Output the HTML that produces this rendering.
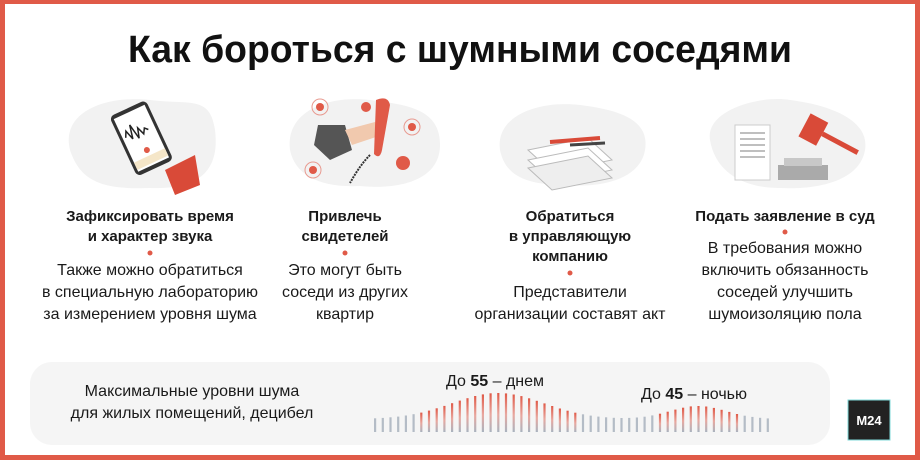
<!DOCTYPE html>
<html><head><meta charset="utf-8"><style>
html,body{margin:0;padding:0;background:#fff}
svg{display:block}
text{font-family:"Liberation Sans",sans-serif;fill:#1a1a1a}
</style></head><body>
<svg width="920" height="460" viewBox="0 0 920 460" xmlns="http://www.w3.org/2000/svg">
<defs>
<linearGradient id="bg" x1="0" y1="0" x2="0" y2="1">
<stop offset="0" stop-color="#e05a48"/><stop offset="0.55" stop-color="#e8a8a0"/><stop offset="1" stop-color="#a9b3bf"/>
</linearGradient>
</defs>
<rect x="0" y="0" width="920" height="460" fill="#fff"/>
<rect x="2.5" y="1.5" width="915" height="456" fill="none" stroke="#e05a48" stroke-width="5"/>
<text x="460" y="62" font-size="38" font-weight="bold" text-anchor="middle" textLength="664" lengthAdjust="spacingAndGlyphs" style="fill:#111">Как бороться с шумными соседями</text>

<!-- illustration 1 -->
<path d="M70 150 C60 110 110 95 150 100 C190 105 210 95 215 130 C220 170 200 190 150 188 C100 190 80 180 70 150Z" fill="#f2f2f2"/>
<g transform="rotate(-25 140 140)"><rect x="122" y="106" width="40" height="66" rx="5" fill="#333"/><rect x="125" y="110" width="34" height="58" fill="#fff"/>
<path d="M128 132 l3 -6 l3 10 l3 -14 l3 16 l3 -10 l3 8 l3 -5 l3 3" stroke="#222" fill="none" stroke-width="1.5"/><circle cx="142" cy="152" r="3" fill="#e05a48"/><rect x="125" y="158" width="34" height="8" fill="#f5e6c8"/></g>
<path d="M165 170 L195 155 L200 185 L175 195Z" fill="#d94a38"/>
<!-- illustration 2 -->
<path d="M290 150 C285 110 330 95 370 100 C410 105 440 110 440 145 C440 180 400 190 360 186 C320 188 295 175 290 150Z" fill="#f2f2f2"/>
<path d="M318 125 L345 125 L352 150 L330 160 L314 145Z" fill="#555"/>
<path d="M345 130 L375 122 L382 135 L352 145Z" fill="#f1c9ae"/>
<path d="M376 100 q12 -5 14 5 l-8 45 q-2 10 -8 4Z" fill="#e05a48"/>
<path d="M370 155 q-10 10 -20 28" stroke="#333" fill="none" stroke-width="2" stroke-dasharray="2 1"/>
<circle cx="320" cy="107" r="8" fill="none" stroke="#e89a90"/><circle cx="320" cy="107" r="4" fill="#e05a48"/>
<circle cx="366" cy="107" r="5" fill="#e05a48"/>
<circle cx="412" cy="127" r="8" fill="none" stroke="#e89a90"/><circle cx="412" cy="127" r="4" fill="#e05a48"/>
<circle cx="313" cy="170" r="8" fill="none" stroke="#e89a90"/><circle cx="313" cy="170" r="4" fill="#e05a48"/>
<circle cx="403" cy="163" r="7" fill="#e05a48"/>
<!-- illustration 3 -->
<path d="M500 150 C495 115 540 100 580 105 C620 110 650 120 645 150 C640 180 600 188 565 185 C525 185 505 175 500 150Z" fill="#f2f2f2"/>
<g fill="#fff" stroke="#bbb"><path d="M528 150 L588 138 L612 160 L552 172Z"/><path d="M528 160 L588 148 L612 170 L552 182Z"/><path d="M528 168 L588 156 L612 178 L552 190Z" fill="#eee"/></g>
<path d="M550 142 L600 138" stroke="#d94a38" stroke-width="4"/><path d="M570 145 L605 143" stroke="#444" stroke-width="3"/>
<!-- illustration 4 -->
<path d="M710 140 C705 110 760 95 790 100 C830 105 870 120 865 150 C860 180 820 190 780 188 C740 188 715 170 710 140Z" fill="#f2f2f2"/>
<rect x="735" y="125" width="35" height="55" fill="#fff" stroke="#ccc"/>
<g stroke="#999" stroke-width="1.2"><line x1="740" y1="133" x2="765" y2="133"/><line x1="740" y1="139" x2="765" y2="139"/><line x1="740" y1="145" x2="765" y2="145"/><line x1="740" y1="151" x2="765" y2="151"/><line x1="740" y1="157" x2="765" y2="157"/></g>
<rect x="778" y="165" width="50" height="15" fill="#aaa"/><rect x="784" y="158" width="38" height="8" fill="#c8c8c8"/>
<g transform="rotate(28 812 130)"><rect x="803" y="116" width="20" height="26" fill="#d94a38"/><rect x="823" y="126" width="40" height="5" fill="#d94a38"/></g>

<!-- column texts -->
<g font-size="15" font-weight="bold" text-anchor="middle">
<text x="150" y="221">Зафиксировать время</text><text x="150" y="241">и характер звука</text>
<text x="345" y="221">Привлечь</text><text x="345" y="241">свидетелей</text>
<text x="570" y="221">Обратиться</text><text x="570" y="241">в управляющую</text><text x="570" y="261">компанию</text>
<text x="785" y="221">Подать заявление в суд</text>
</g>
<g fill="#e05a48"><circle cx="150" cy="253" r="2.5"/><circle cx="345" cy="253" r="2.5"/><circle cx="570" cy="273" r="2.5"/><circle cx="785" cy="232" r="2.5"/></g>
<g font-size="16" text-anchor="middle">
<text x="150" y="275">Также можно обратиться</text><text x="150" y="297">в специальную лабораторию</text><text x="150" y="319">за измерением уровня шума</text>
<text x="345" y="275">Это могут быть</text><text x="345" y="297">соседи из других</text><text x="345" y="319">квартир</text>
<text x="570" y="297">Представители</text><text x="570" y="319">организации составят акт</text>
<text x="785" y="253">В требования можно</text><text x="785" y="275">включить обязанность</text><text x="785" y="297">соседей улучшить</text><text x="785" y="319">шумоизоляцию пола</text>
</g>

<!-- bottom panel -->
<rect x="30" y="362" width="800" height="83" rx="22" fill="#f5f5f5"/>
<text x="192" y="396" font-size="16" text-anchor="middle">Максимальные уровни шума</text>
<text x="192" y="418" font-size="16" text-anchor="middle">для жилых помещений, децибел</text>
<text x="446" y="386" font-size="16">До <tspan font-weight="bold">55</tspan> – днем</text>
<text x="641" y="399" font-size="16">До <tspan font-weight="bold">45</tspan> – ночью</text>
<g id="bars"></g>
<rect x="848" y="400" width="42" height="40" fill="#222" stroke="#7fd8d8" stroke-width="1"/>
<text x="869" y="425" font-size="13" font-weight="bold" text-anchor="middle" style="fill:#fff">M24</text>
</svg>
<script>
var g=document.getElementById('bars'),s='';
for(var i=0;i<52;i++){var x=375+i*7.7;
var h=13+26*Math.exp(-Math.pow((x-498)/65,2))+13*Math.exp(-Math.pow((x-698)/40,2));
var y=432-h;
s+='<rect x="'+(x-1).toFixed(1)+'" y="'+y.toFixed(1)+'" width="2.2" height="'+h.toFixed(1)+'" fill="'+(h>18?'url(#bg)':'#b4bcc6')+'"/>';}
g.innerHTML=s;
</script>
</body></html>
